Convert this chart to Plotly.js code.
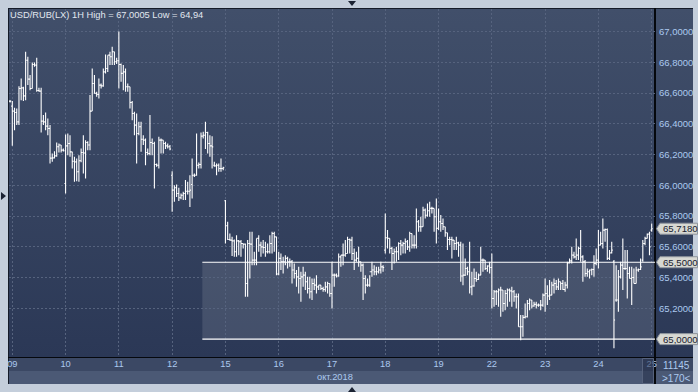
<!DOCTYPE html>
<html>
<head>
<meta charset="utf-8">
<script src="https://cdn.plot.ly/plotly-3.0.1.min.js"></script>
<style>
  html, body { margin:0; padding:0; width:698px; height:392px; overflow:hidden; background:#c4cedb; }
  .abs { position:absolute; }
  #plotbg { left:8px; top:8px; width:685px; height:349px; background:linear-gradient(#414f6a, #2b3856); border-top:1px solid #141b28; border-left:1px solid #141b28; box-sizing:border-box; }
  #xstrip { left:8px; top:357px; width:685px; height:14px; background:#3b4864; border-left:1px solid #141b28; box-sizing:border-box; }
  #band { left:8px; top:371px; width:685px; height:13px; background:#4b5975; border-left:1px solid #141b28; box-sizing:border-box; }
  #vline { left:654px; top:8px; width:1.5px; height:376px; background:#05080d; }
  #hline { left:8px; top:356.5px; width:685px; height:1.5px; background:#05080d; }
  #triTop { left:348px; top:1px; width:0; height:0; border-left:4.5px solid transparent; border-right:4.5px solid transparent; border-top:5px solid #1b2333; }
  #triBot { left:348px; top:387px; width:0; height:0; border-left:4.5px solid transparent; border-right:4.5px solid transparent; border-bottom:5px solid #1b2333; }
  #triLeft { left:1px; top:192px; width:0; height:0; border-top:4.5px solid transparent; border-bottom:4.5px solid transparent; border-left:5px solid #1b2333; }
  #chart { position:absolute; left:0; top:0; width:698px; height:392px; }
</style>
</head>
<body>
<div id="plotbg" class="abs"></div>
<div id="xstrip" class="abs"></div>
<div id="band" class="abs"></div>
<div id="vline" class="abs"></div>
<div id="hline" class="abs"></div>
<div id="triTop" class="abs"></div>
<div id="triBot" class="abs"></div>
<div id="triLeft" class="abs"></div>
<div id="chart"></div>
<script>
// ---- DATA (USD/RUB hourly bars, 08.10 last hour .. 25.10 first hour) ----
const chartTitle = 'USD/RUB(LX) 1H High = 67,0005 Low = 64,94';
const dayLabels = ['09','10','11','12','15','16','17','18','19','22','23','24','25'];
const barsPerDay = 24;
const firstBarHour = -1;   // first bar is the last hour of 08.10
const monthLabel = 'окт.2018';

const openPx = [
  66.548,
  66.515,66.483,66.474,66.413,66.630,66.634,66.582,66.814,66.691,66.630,66.786,66.782,66.617,66.613,66.418,66.413,66.385,66.370,66.177,66.179,66.192,66.251,66.262,66.229,
  66.012,66.257,66.272,66.218,66.157,66.153,66.088,66.160,66.214,66.210,66.279,66.262,66.483,66.662,66.598,66.591,66.652,66.647,66.738,66.760,66.847,66.836,66.869,66.804,
  66.810,66.786,66.728,66.738,66.641,66.641,66.539,66.467,66.392,66.337,66.381,66.300,66.294,66.214,66.207,66.279,66.272,66.136,66.131,66.294,66.294,66.272,66.257,66.251,
  66.066,65.969,65.984,65.947,65.919,65.936,65.947,65.962,65.962,66.006,66.066,66.066,66.131,66.136,66.320,66.326,66.344,66.272,66.257,66.131,66.127,66.131,66.110,66.110,
  65.900,65.737,65.648,65.644,65.639,65.568,65.639,65.633,65.622,65.618,65.362,65.622,65.618,65.514,65.514,65.655,65.611,65.600,65.596,65.568,65.568,65.622,65.687,65.665,
  65.423,65.525,65.503,65.503,65.525,65.503,65.503,65.449,65.427,65.405,65.394,65.405,65.416,65.373,65.329,65.308,65.362,65.351,65.340,65.351,65.329,65.323,65.340,65.362,
  65.297,65.416,65.416,65.410,65.535,65.546,65.546,65.557,65.648,65.644,65.557,65.514,65.525,65.503,65.481,65.394,65.351,65.351,65.438,65.449,65.438,65.438,65.449,65.470,
  65.579,65.659,65.655,65.590,65.557,65.568,65.568,65.622,65.611,65.622,65.633,65.600,65.687,65.611,65.611,65.763,65.731,65.731,65.839,65.806,65.835,65.850,65.850,65.796,
  65.720,65.763,65.752,65.731,65.692,65.648,65.648,65.644,65.622,65.626,65.611,65.410,65.416,65.459,65.438,65.340,65.345,65.394,65.388,65.416,65.514,65.514,65.459,65.475,
  65.466,65.264,65.308,65.308,65.319,65.319,65.232,65.297,65.319,65.314,65.308,65.275,65.275,65.080,65.080,65.141,65.145,65.232,65.254,65.215,65.226,65.221,65.221,65.221,
  65.286,65.297,65.280,65.286,65.351,65.362,65.340,65.373,65.362,65.323,65.351,65.496,65.509,65.546,65.535,65.546,65.590,65.535,65.503,65.427,65.438,65.449,65.453,65.492,
  65.514,65.611,65.622,65.709,65.713,65.525,65.561,65.503,65.254,65.254,65.405,65.481,65.459,65.459,65.427,65.394,65.401,65.362,65.449,65.453,65.514,65.622,65.655,65.683,
  65.709
];
const highPx = [
  66.554,
  66.548,66.504,66.500,66.645,66.695,66.641,66.869,66.836,66.717,66.799,66.799,66.830,66.634,66.634,66.457,66.474,66.435,66.392,66.207,66.222,66.279,66.272,66.262,66.240,
  66.331,66.337,66.326,66.218,66.186,66.175,66.196,66.240,66.326,66.294,66.287,66.587,66.760,66.717,66.608,66.695,66.662,66.760,66.851,66.847,66.869,66.901,66.869,66.830,
  67.0005,66.793,66.782,66.760,66.662,66.641,66.548,66.478,66.468,66.413,66.413,66.326,66.305,66.240,66.457,66.305,66.283,66.142,66.316,66.305,66.294,66.283,66.272,66.262,
  66.092,66.001,66.006,65.984,65.947,65.958,66.034,66.023,66.066,66.175,66.077,66.337,66.149,66.344,66.348,66.413,66.348,66.326,66.320,66.153,66.142,66.142,66.175,66.121,
  65.904,65.763,65.687,65.665,65.648,65.676,65.644,65.644,65.622,65.622,65.644,65.698,65.698,65.568,65.655,65.676,65.633,65.644,65.633,65.622,65.676,65.698,65.698,65.665,
  65.568,65.557,65.535,65.546,65.535,65.525,65.514,65.492,65.449,65.470,65.438,65.470,65.438,65.405,65.405,65.394,65.394,65.416,65.351,65.351,65.340,65.373,65.373,65.362,
  65.503,65.427,65.427,65.557,65.546,65.622,65.644,65.665,65.655,65.665,65.590,65.568,65.600,65.503,65.492,65.416,65.394,65.416,65.503,65.481,65.470,65.470,65.503,65.481,
  65.817,65.709,65.655,65.600,65.590,65.600,65.630,65.644,65.633,65.655,65.644,65.698,65.687,65.676,65.850,65.774,65.796,65.861,65.850,65.882,65.893,65.861,65.850,65.915,
  65.850,65.807,65.785,65.731,65.692,65.665,65.665,65.644,65.665,65.633,65.633,65.622,65.525,65.470,65.633,65.438,65.459,65.438,65.427,65.600,65.525,65.514,65.481,65.503,
  65.557,65.319,65.319,65.329,65.340,65.319,65.319,65.329,65.329,65.340,65.319,65.297,65.297,65.156,65.156,65.232,65.254,65.264,65.254,65.243,65.243,65.232,65.254,65.297,
  65.394,65.351,65.384,65.373,65.394,65.384,65.394,65.373,65.384,65.373,65.503,65.525,65.600,65.568,65.655,65.600,65.709,65.546,65.514,65.459,65.453,65.459,65.546,65.590,
  65.709,65.698,65.785,65.720,65.720,65.579,65.633,65.514,65.481,65.449,65.503,65.655,65.579,65.579,65.470,65.470,65.459,65.470,65.459,65.525,65.644,65.665,65.687,65.698,
  65.752
];
const lowPx = [
  66.539,
  66.257,66.359,66.392,66.392,66.554,66.548,66.554,66.652,66.619,66.630,66.771,66.608,66.608,66.344,66.392,66.359,66.326,66.142,66.153,66.175,66.186,66.214,66.214,66.220,
  65.947,66.196,66.186,66.110,66.023,66.027,66.023,66.150,66.077,66.045,66.229,66.229,66.483,66.598,66.576,66.565,66.630,66.641,66.728,66.738,66.782,66.782,66.782,66.790,
  66.630,66.674,66.619,66.608,66.608,66.500,66.424,66.326,66.142,66.326,66.218,66.262,66.131,66.196,66.196,66.196,65.980,66.121,66.110,66.207,66.207,66.236,66.240,66.229,
  65.828,65.893,65.925,65.899,65.910,65.904,65.904,65.941,65.860,65.915,66.055,66.062,66.110,66.110,66.305,66.236,66.207,66.186,66.110,66.121,66.066,66.088,66.088,66.099,
  65.622,65.644,65.639,65.540,65.535,65.535,65.546,65.535,65.590,65.275,65.275,65.394,65.481,65.481,65.481,65.568,65.535,65.557,65.535,65.557,65.557,65.557,65.568,65.416,
  65.416,65.449,65.427,65.481,65.459,65.470,65.362,65.394,65.340,65.297,65.243,65.340,65.319,65.297,65.264,65.254,65.319,65.297,65.319,65.319,65.308,65.308,65.297,65.275,
  65.199,65.340,65.401,65.405,65.470,65.481,65.535,65.557,65.557,65.514,65.449,65.503,65.470,65.438,65.254,65.297,65.340,65.340,65.405,65.416,65.416,65.427,65.427,65.438,
  65.557,65.590,65.557,65.449,65.492,65.503,65.514,65.546,65.557,65.557,65.579,65.568,65.590,65.590,65.590,65.698,65.698,65.731,65.785,65.796,65.796,65.817,65.698,65.622,
  65.709,65.698,65.709,65.665,65.579,65.611,65.525,65.579,65.579,65.535,65.373,65.351,65.410,65.416,65.297,65.286,65.340,65.373,65.384,65.416,65.438,65.449,65.438,65.427,
  65.199,65.210,65.221,65.210,65.145,65.178,65.188,65.210,65.243,65.210,65.243,65.199,65.080,64.993,65.015,65.134,65.141,65.188,65.199,65.210,65.199,65.210,65.188,65.210,
  65.178,65.221,65.254,65.286,65.297,65.319,65.319,65.319,65.319,65.308,65.329,65.492,65.492,65.525,65.514,65.514,65.503,65.373,65.405,65.405,65.394,65.416,65.405,65.481,
  65.459,65.611,65.590,65.633,65.514,65.514,65.557,64.940,65.243,65.178,65.394,65.319,65.449,65.264,65.394,65.221,65.362,65.362,65.438,65.449,65.503,65.611,65.655,65.546,
  65.698
];
const closePx = [
  66.548,
  66.483,66.474,66.413,66.630,66.634,66.582,66.814,66.691,66.630,66.786,66.782,66.617,66.613,66.418,66.413,66.385,66.370,66.177,66.179,66.192,66.251,66.262,66.229,66.225,
  66.257,66.272,66.218,66.157,66.153,66.088,66.160,66.214,66.210,66.279,66.262,66.483,66.662,66.598,66.591,66.652,66.647,66.738,66.760,66.847,66.836,66.869,66.804,66.810,
  66.786,66.728,66.738,66.641,66.641,66.539,66.467,66.392,66.337,66.381,66.300,66.294,66.214,66.207,66.279,66.272,66.136,66.131,66.294,66.294,66.272,66.257,66.251,66.236,
  65.969,65.984,65.947,65.919,65.936,65.947,65.962,65.962,65.969,66.066,66.066,66.131,66.136,66.320,66.326,66.344,66.272,66.257,66.250,66.127,66.131,66.110,66.110,66.114,
  65.737,65.648,65.644,65.639,65.568,65.639,65.633,65.622,65.618,65.362,65.622,65.618,65.514,65.514,65.655,65.611,65.600,65.596,65.568,65.568,65.622,65.687,65.665,65.423,
  65.525,65.503,65.503,65.525,65.503,65.503,65.449,65.427,65.405,65.394,65.405,65.416,65.373,65.329,65.308,65.362,65.351,65.340,65.351,65.329,65.323,65.340,65.362,65.297,
  65.416,65.416,65.410,65.535,65.546,65.546,65.557,65.648,65.644,65.557,65.514,65.525,65.503,65.481,65.394,65.351,65.351,65.438,65.449,65.438,65.438,65.449,65.470,65.466,
  65.659,65.655,65.590,65.557,65.568,65.568,65.622,65.611,65.622,65.633,65.600,65.687,65.611,65.611,65.763,65.731,65.731,65.839,65.806,65.835,65.850,65.850,65.796,65.720,
  65.763,65.752,65.731,65.692,65.648,65.648,65.644,65.622,65.626,65.611,65.410,65.416,65.459,65.438,65.340,65.345,65.394,65.388,65.416,65.514,65.514,65.459,65.475,65.466,
  65.264,65.308,65.308,65.319,65.319,65.232,65.297,65.319,65.314,65.308,65.275,65.275,65.080,65.080,65.141,65.145,65.232,65.254,65.215,65.226,65.221,65.221,65.221,65.286,
  65.297,65.280,65.286,65.351,65.362,65.340,65.373,65.362,65.323,65.351,65.496,65.509,65.546,65.535,65.546,65.590,65.535,65.503,65.427,65.438,65.449,65.453,65.492,65.514,
  65.611,65.622,65.709,65.713,65.525,65.561,65.579,65.124,65.254,65.405,65.481,65.459,65.459,65.427,65.394,65.401,65.362,65.449,65.453,65.470,65.622,65.655,65.683,65.600,
  65.718
];
const yTickVals = [65.2, 65.4, 65.6, 65.8, 66.0, 66.2, 66.4, 66.6, 66.8, 67.0];
const levelValues = [65.5, 65.0];           // horizontal support / resistance lines
const levelStartHour = 85.6;                 // lines drawn from 12.10 afternoon
const lastPrice = closePx[closePx.length - 1];
const volumeText = '11145';
const rangeText = '>170<';

// ---- CHART ----
const fmt = v => v.toFixed(4).replace('.', ',');
const xs = openPx.map((_, i) => i + firstBarHour);
const dayTickVals = dayLabels.map((_, k) => k * barsPerDay);

const Y0 = 64.8836, Y1 = 67.147;
const X0 = -1.486, X1 = 289.49;
const yToPaper = v => (v - Y0) / (Y1 - Y0);
const pxX = px => (px - 9) / 646;           // page px -> paper x
const pxY = py => (357 - py) / 348;         // page px -> paper y

const FONT = 'Liberation Sans, Arial, sans-serif';
const LABEL = '#abc9ef';

const trace = {
  type: 'ohlc', x: xs, open: openPx, high: highPx, low: lowPx, close: closePx,
  increasing: { line: { color: '#ffffff', width: 1.1 } },
  decreasing: { line: { color: '#ffffff', width: 1.1 } },
  tickwidth: 0.5, hoverinfo: 'skip', showlegend: false
};

const shapes = [
  { type:'rect', xref:'x', yref:'y', x0: levelStartHour, x1: X1, y0: levelValues[1], y1: levelValues[0],
    fillcolor:'rgba(255,255,255,0.115)', line:{width:0}, layer:'below' },
];
levelValues.forEach(v => shapes.push({ type:'line', xref:'x', yref:'y', x0: levelStartHour, x1: X1, y0: v, y1: v,
  line:{ color:'#ffffff', width:1.2 } }));

const annotations = [
  { xref:'paper', yref:'paper', x: pxX(335), y: pxY(377), text: monthLabel, showarrow:false,
    font:{ family: FONT, size: 9.3, color: LABEL }, xanchor:'center', yanchor:'middle' },
  { xref:'paper', yref:'paper', x: pxX(676), y: pxY(365.5), text: volumeText, showarrow:false,
    font:{ family: FONT, size: 10, color: LABEL }, xanchor:'center', yanchor:'middle' },
  { xref:'paper', yref:'paper', x: pxX(676), y: pxY(378), text: rangeText, showarrow:false,
    font:{ family: FONT, size: 10, color: LABEL }, xanchor:'center', yanchor:'middle' },
];

// price boxes with a pointer on the right axis
[lastPrice, levelValues[0], levelValues[1]].forEach(v => {
  const yc = yToPaper(v), hh = 5.5 / 348;
  const xt = pxX(656.5), xb = pxX(660), xr = pxX(697.5);
  shapes.push({ type:'path', xref:'paper', yref:'paper',
    path:`M${xt},${yc} L${xb},${yc+hh} L${xr},${yc+hh} L${xr},${yc-hh} L${xb},${yc-hh} Z`,
    fillcolor:'#d7d8d2', line:{ color:'#8e949c', width:1 }, layer:'above' });
  annotations.push({ xref:'paper', yref:'paper', x: pxX(660.5), y: yc, text: fmt(v), showarrow:false,
    xanchor:'left', yanchor:'middle', font:{ family: FONT, size: 9.6, color:'#18202e' } });
});

// scroll thumb near the right end of the time strip
shapes.push({ type:'rect', xref:'paper', yref:'paper', x0: pxX(642.5), x1: pxX(653.5), y0: pxY(383.5), y1: pxY(358.5),
  fillcolor:'rgba(38,48,72,0.55)', line:{ color:'#56627c', width:1 } });

const layout = {
  width: 698, height: 392,
  margin: { l: 9, r: 43, t: 9, b: 35, pad: 0 },
  paper_bgcolor: 'rgba(0,0,0,0)', plot_bgcolor: 'rgba(0,0,0,0)',
  showlegend: false,
  title: { text: chartTitle, xref:'container', yref:'container', x: 10/698, xanchor:'left',
           y: 1 - 15/392, yanchor:'middle', font:{ family: FONT, size: 9.3, color:'#e2e8f0' } },
  xaxis: { range:[X0, X1], tickmode:'array', tickvals: dayTickVals, ticktext: dayLabels,
           showgrid:true, gridcolor:'#56637e', griddash:'2px,2px', gridwidth:1, zeroline:false,
           showline:false, ticks:'', tickfont:{ family: FONT, size: 9.3, color: LABEL },
           rangeslider:{ visible:false }, fixedrange:true },
  yaxis: { side:'right', range:[Y0, Y1], tickmode:'array', tickvals: yTickVals, ticktext: yTickVals.map(fmt),
           showgrid:true, gridcolor:'#56637e', griddash:'2px,2px', gridwidth:1, zeroline:false,
           showline:false, ticks:'', ticklabelstandoff: 3, tickfont:{ family: FONT, size: 9.5, color: LABEL },
           fixedrange:true },
  shapes, annotations
};

Plotly.newPlot('chart', [trace], layout, { staticPlot: true, displayModeBar: false });
</script>
</body>
</html>
